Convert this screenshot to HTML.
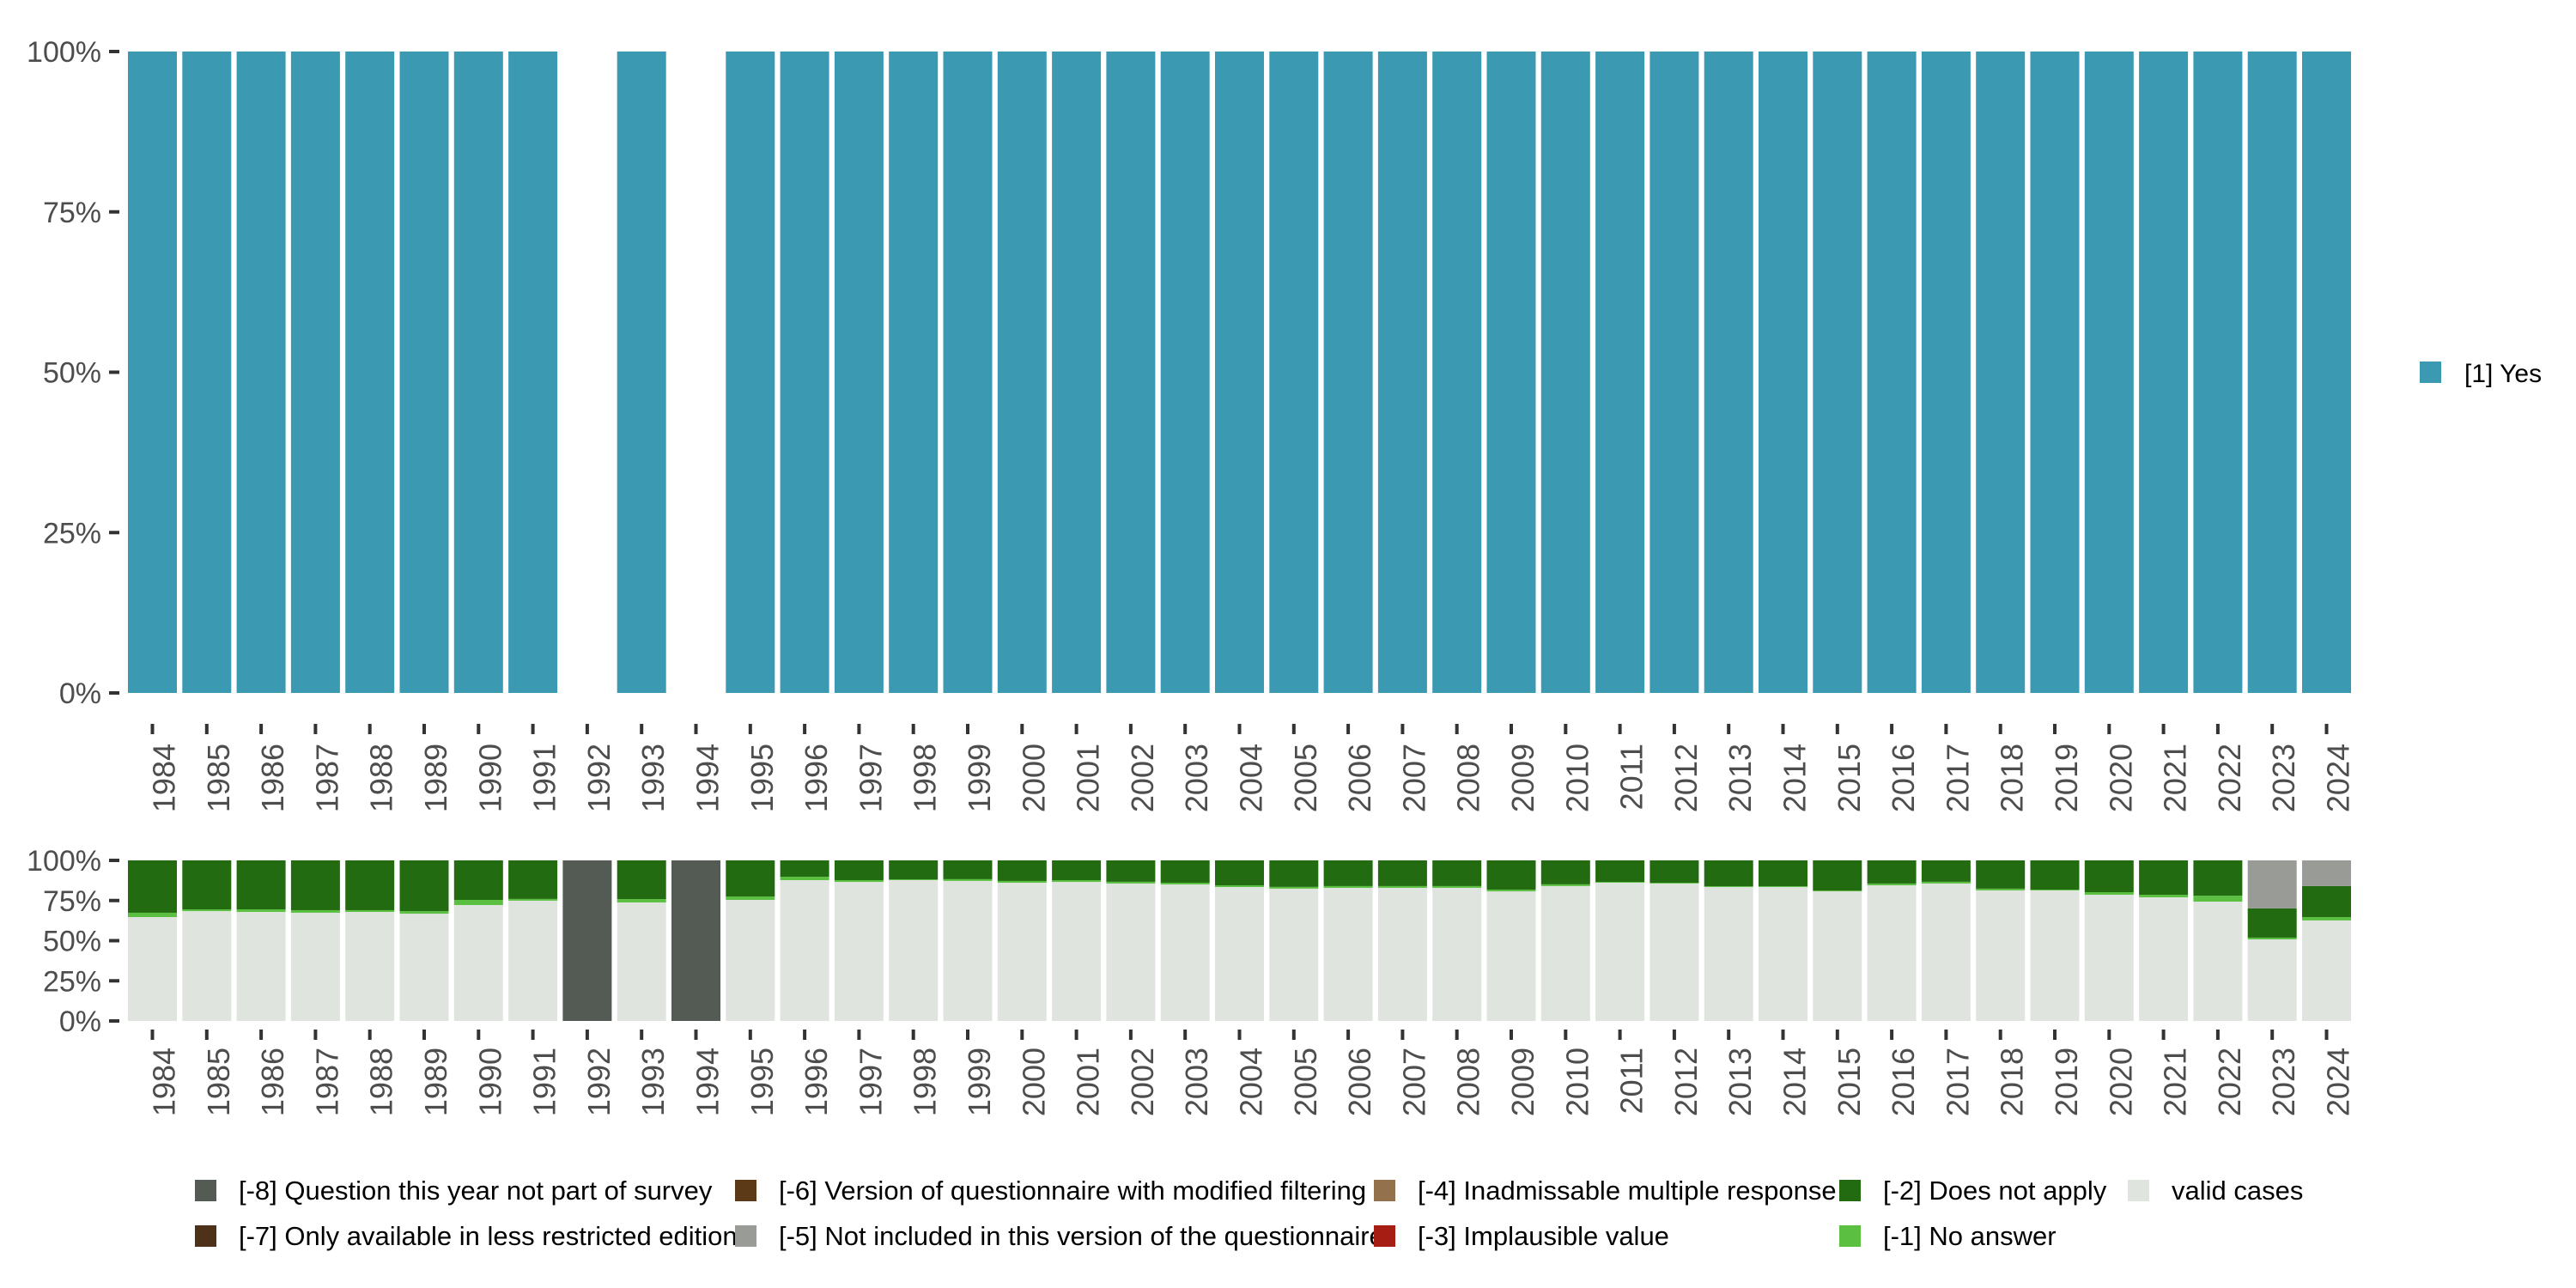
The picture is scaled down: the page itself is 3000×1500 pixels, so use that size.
<!DOCTYPE html>
<html><head><meta charset="utf-8">
<style>
html,body{margin:0;padding:0;background:#fff;}
svg{display:block;font-family:"Liberation Sans",sans-serif;}
</style></head>
<body>
<svg id="chart" width="3000" height="1500" viewBox="0 0 3000 1500" xmlns="http://www.w3.org/2000/svg"></svg>
<script>
const years = ["1984","1985","1986","1987","1988","1989","1990","1991","1992","1993","1994","1995","1996","1997","1998","1999","2000","2001","2002","2003","2004","2005","2006","2007","2008","2009","2010","2011","2012","2013","2014","2015","2016","2017","2018","2019","2020","2021","2022","2023","2024"];
const yesValues = [100,100,100,100,100,100,100,100,null,100,null,100,100,100,100,100,100,100,100,100,100,100,100,100,100,100,100,100,100,100,100,100,100,100,100,100,100,100,100,100,100];
const validValues = [64.7,68.4,67.9,67.4,67.9,66.8,72.2,74.9,0,73.8,0,75.4,87.7,86.6,87.7,87.2,86.1,86.6,85.6,85.0,83.4,82.4,82.9,82.9,82.9,80.7,84.0,86.1,85.6,83.4,83.4,80.7,84.5,85.6,81.3,81.3,78.6,77.0,74.3,50.8,62.6];
const noAnswerValues = [2.7,1.1,1.6,1.6,1.1,1.6,3.2,1.1,0,2.1,0,2.1,2.1,1.1,0.5,1.1,1.1,1.1,1.1,1.1,1.1,1.1,1.1,1.1,1.1,1.1,1.1,0.5,0.5,0.5,0.5,0.5,1.1,1.1,1.1,0.5,1.6,1.6,3.7,1.1,2.1];
const notApplyValues = [32.6,30.5,30.5,31.0,31.0,31.6,24.6,24.0,0,24.1,0,22.5,10.2,12.3,11.8,11.7,12.8,12.3,13.3,13.9,15.5,16.5,16.0,16.0,16.0,18.2,14.9,13.4,13.9,16.1,16.1,18.8,14.4,13.3,17.6,18.2,19.8,21.4,22.0,18.2,19.3];
const notIncludedValues = [0,0,0,0,0,0,0,0,0,0,0,0,0,0,0,0,0,0,0,0,0,0,0,0,0,0,0,0,0,0,0,0,0,0,0,0,0,0,0,29.9,16.0];
const notSurveyValues = [0,0,0,0,0,0,0,0,100,0,100,0,0,0,0,0,0,0,0,0,0,0,0,0,0,0,0,0,0,0,0,0,0,0,0,0,0,0,0,0,0];
const yTicks = [0,25,50,75,100];

const NS="http://www.w3.org/2000/svg";
const svg=document.getElementById('chart');
function mk(tag,attrs,parent){const e=document.createElementNS(NS,tag);for(const k in attrs)e.setAttribute(k,attrs[k]);(parent||svg).appendChild(e);return e;}

const firstLeft=149, band=63.3, barW=57;
function xBand(i){return firstLeft+i*band;}
function yTop(v){return 807-(807-60)*v/100;}
function yBot(v){return 1189-(1189-1002)*v/100;}

function axes(yf,tickY0,labelY0,name){
  const g=mk('g',{});
  
  
  yTicks.forEach(t=>{
    const y=yf(t);
    const tk=mk('rect',{x:127,y:y-2,width:12,height:4,fill:'#333'},g);
    
    
    const tx=mk('text',{x:118,y:y+12,'text-anchor':'end','font-size':34,fill:'#4d4d4d'},g);
    tx.textContent=t+'%';
    
    
  });
  years.forEach((yr,i)=>{
    const cx=xBand(i)+barW/2;
    const tk=mk('rect',{x:cx-2,y:tickY0,width:4,height:12,fill:'#333'},g);
    
    
    const tx=mk('text',{transform:`translate(${cx+26},${labelY0}) rotate(-90)`,'text-anchor':'end','font-size':36,fill:'#4d4d4d'},g);
    tx.textContent=yr;
    
    
  });
}

// top chart
years.forEach((yr,i)=>{
  const v=yesValues[i];
  if(v==null)return;
  const r=mk('rect',{x:xBand(i),y:yTop(v),width:barW,height:yTop(0)-yTop(v),fill:'#3b9ab2'});
  
  
});
axes(yTop,843,866,'top');

// bottom stacked chart
const stackSeries=[
  {vals:validValues,color:'#e0e4df',name:'valid'},
  {vals:noAnswerValues,color:'#5bc041',name:'no-answer'},
  {vals:notApplyValues,color:'#226b10',name:'does-not-apply'},
  {vals:notIncludedValues,color:'#999c96',name:'not-included'},
  {vals:notSurveyValues,color:'#545b54',name:'not-in-survey'}
];
years.forEach((yr,i)=>{
  let cum=0;
  stackSeries.forEach(s=>{
    const v=s.vals[i];
    if(!v){return;}
    const y1=yBot(cum+v), y0=yBot(cum);
    const r=mk('rect',{x:xBand(i),y:y1,width:barW,height:y0-y1,fill:s.color});
    
    
    cum+=v;
  });
});
axes(yBot,1199,1220,'bottom');

// top legend
const lg=mk('g',{});


mk('rect',{x:2818,y:421,width:25,height:25,fill:'#3b9ab2'},lg);
const lt=mk('text',{x:2870,y:445,'font-size':30,fill:'#000'},lg);
lt.textContent='[1] Yes';

// bottom legend
const legendItems=[
  [227,1374,'#545b54','[-8] Question this year not part of survey'],
  [227,1427,'#4e3119','[-7] Only available in less restricted edition'],
  [856,1374,'#5c3a18','[-6] Version of questionnaire with modified filtering'],
  [856,1427,'#999c96','[-5] Not included in this version of the questionnaire'],
  [1600,1374,'#93714c','[-4] Inadmissable multiple response'],
  [1600,1427,'#a61d14','[-3] Implausible value'],
  [2142,1374,'#226b10','[-2] Does not apply'],
  [2142,1427,'#5bc041','[-1] No answer'],
  [2478,1374,'#e0e4df','valid cases']
];
legendItems.forEach(it=>{
  const g=mk('g',{});
  
  
  mk('rect',{x:it[0],y:it[1],width:25,height:25,fill:it[2]},g);
  const t=mk('text',{x:it[0]+51,y:it[1]+23,'font-size':31,fill:'#000'},g);
  t.textContent=it[3];
});
</script>
</body></html>
